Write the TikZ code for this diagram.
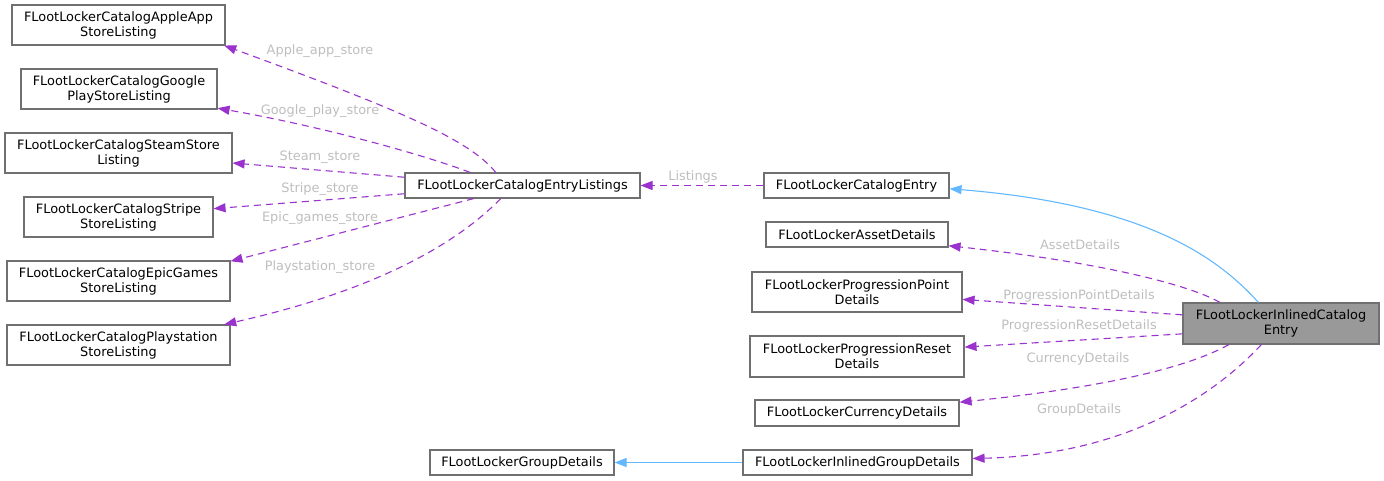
\documentclass[tikz,border=0pt]{standalone}
\usepackage{fontspec}
\setmainfont{DejaVu Sans}
\usetikzlibrary{arrows.meta}

\definecolor{boxline}{HTML}{707070}
\definecolor{mainfill}{HTML}{999999}
\definecolor{memberline}{HTML}{9A32CD}
\definecolor{inheritline}{HTML}{63B8FF}
\definecolor{labeltext}{HTML}{BEBEBE}

\begin{document}
\begin{tikzpicture}[
      x=1pt, y=-1pt,
      font=\fontsize{12.9}{15}\selectfont,
      box/.style={draw=boxline, line width=1.1pt, inner sep=0pt, align=center,
                  fill=white},
      mainbox/.style={box, fill=mainfill},
      member/.style={draw=memberline, line width=1.1pt,
                     dash pattern=on 7pt off 5pt,
                     -{Triangle[length=12pt, width=9pt]}},
      inherit/.style={draw=inheritline, line width=1.1pt,
                      -{Triangle[length=12pt, width=9pt]}},
      lbl/.style={text=labeltext, inner sep=0pt}
    ]
    \useasboundingbox (0,0) rectangle (1384,481);

    \node[box, minimum width=213, minimum height=40] (apple)       at (118.5,25)  {FLootLockerCatalogAppleApp\\StoreListing};
    \node[box, minimum width=196, minimum height=40] (google)      at (119,89)    {FLootLockerCatalogGoogle\\PlayStoreListing};
    \node[box, minimum width=227, minimum height=40] (steam)       at (118.5,153) {FLootLockerCatalogSteamStore\\Listing};
    \node[box, minimum width=189, minimum height=40] (stripe)      at (118.5,217) {FLootLockerCatalogStripe\\StoreListing};
    \node[box, minimum width=223, minimum height=40] (epic)        at (118.5,281) {FLootLockerCatalogEpicGames\\StoreListing};
    \node[box, minimum width=223, minimum height=40] (playstation) at (118.5,345) {FLootLockerCatalogPlaystation\\StoreListing};
    \node[box, minimum width=235, minimum height=25] (listings)    at (522.5,185.5) {FLootLockerCatalogEntryListings};
    \node[box, minimum width=185, minimum height=25] (entry)       at (856.5,185.5) {FLootLockerCatalogEntry};
    \node[box, minimum width=182, minimum height=25] (asset)       at (857,234.5) {FLootLockerAssetDetails};
    \node[box, minimum width=210, minimum height=40] (ppoint)      at (857,292)   {FLootLockerProgressionPoint\\Details};
    \node[box, minimum width=214, minimum height=41] (preset)      at (857,356.5) {FLootLockerProgressionReset\\Details};
    \node[box, minimum width=204, minimum height=26] (currency)    at (857,413)   {FLootLockerCurrencyDetails};
    \node[box, minimum width=229, minimum height=25] (igroup)      at (857.5,462.5) {FLootLockerInlinedGroupDetails};
    \node[box, minimum width=184, minimum height=25] (group)       at (522,462.5) {FLootLockerGroupDetails};
    \node[mainbox, minimum width=196, minimum height=41] (inlined) at (1281,323.5) {FLootLockerInlinedCatalog\\Entry};

    \draw[member] (listings.154) .. controls (470,140) and (400,110) .. (apple.349);
    \draw[member] (listings.166) .. controls (430,157) and (330,128) .. (google.349);
    \draw[member] (listings.176) -- (steam.355);
    \draw[member] (listings.184) -- (stripe.5);
    \draw[member] (listings.195) -- (epic.10);
    \draw[member] (listings.211) .. controls (470,230) and (400,285) .. (playstation.11);
    \draw[member] (entry.west) -- (listings.east);
    \draw[inherit] (inlined.137) .. controls (1220,260) and (1150,205) .. (entry.358);
    \draw[member] (inlined.161) .. controls (1190,285) and (1100,262) .. (asset.353);
    \draw[member] (inlined.175) -- (ppoint.356);
    \draw[member] (inlined.186) -- (preset.5);
    \draw[member] (inlined.202) .. controls (1180,372) and (1080,390) .. (currency.6);
    \draw[member] (inlined.227) .. controls (1210,400) and (1120,455) .. (igroup.2);
    \draw[inherit] (igroup.west) -- (group.east);

    \node[lbl] (lapple)    at (320,51)   {Apple\_app\_store};
    \node[lbl] (lgoogle)   at (320,111)  {Google\_play\_store};
    \node[lbl] (lsteam)    at (320,157)  {Steam\_store};
    \node[lbl] (lstripe)   at (320,189)  {Stripe\_store};
    \node[lbl] (lepic)     at (320,218)  {Epic\_games\_store};
    \node[lbl] (lplay)     at (320,267)  {Playstation\_store};
    \node[lbl] (llistings) at (693,177)  {Listings};
    \node[lbl] (lasset)    at (1080,245) {AssetDetails};
    \node[lbl] (lppoint)   at (1079,296) {ProgressionPointDetails};
    \node[lbl] (lpreset)   at (1079,326) {ProgressionResetDetails};
    \node[lbl] (lcurrency) at (1078,359) {CurrencyDetails};
    \node[lbl] (lgroup)    at (1079,410) {GroupDetails};
  \end{tikzpicture}
\end{document}
